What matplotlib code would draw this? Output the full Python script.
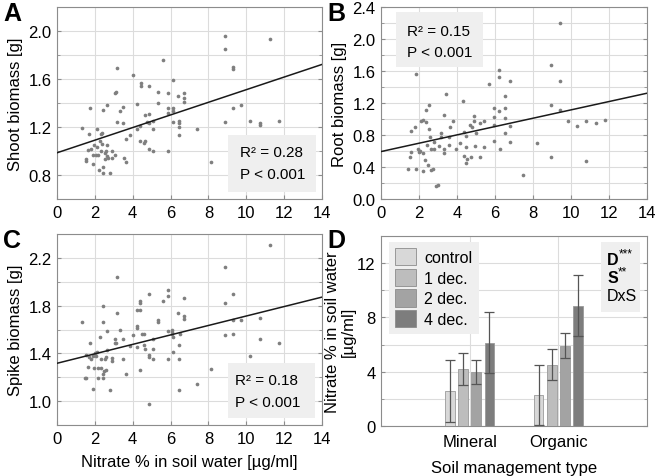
import numpy as np
import matplotlib
matplotlib.use("Agg")
import matplotlib.pyplot as plt
from matplotlib.patches import Rectangle

plt.rcParams['font.family'] = ['Liberation Sans', 'DejaVu Sans']

# ---- data ----
# A: shoot biomass vs nitrate
shoot_x = [1.30, 1.65, 1.53, 1.53, 1.67, 1.74, 1.82, 1.88, 1.97, 2.04, 2.09, 2.09, 2.15, 1.90,
           2.27, 2.30, 2.36, 2.39, 2.22, 2.30, 2.41, 2.44, 2.44, 2.53, 2.55, 2.59, 2.62, 2.66,
           2.66, 2.70, 2.79, 2.91, 2.93, 3.05, 3.05, 3.14, 3.17, 3.19, 3.32, 3.49, 3.49, 3.53,
           3.67, 3.67, 3.85, 4.03, 4.20, 4.20, 4.38, 4.41, 4.43, 4.43, 4.59, 4.64, 4.64, 4.73,
           4.85, 4.85, 4.87, 4.87, 5.08, 5.08, 5.08, 5.31, 5.31, 5.58, 5.84, 5.84, 5.84, 5.87,
           6.12, 6.12, 6.12, 6.14, 6.40, 6.44, 6.44, 6.44, 6.44, 6.72, 6.72, 6.72, 7.40, 8.11,
           8.90, 8.90, 8.90, 9.30, 9.30, 9.32, 9.74, 10.22, 10.71, 10.71, 11.24, 11.73]
shoot_y = [1.19, 1.01, 0.93, 0.92, 1.14, 1.36, 1.02, 0.97, 1.05, 0.97, 1.18, 1.03, 0.97, 0.89,
           1.08, 1.14, 1.15, 1.06, 0.84, 1.00, 0.87, 0.82, 1.34, 0.98, 0.93, 1.00, 0.96, 1.38,
           1.05, 0.94, 0.82, 1.00, 0.94, 0.97, 1.48, 1.49, 1.69, 1.24, 1.33, 1.37, 1.23, 0.94,
           0.91, 1.10, 1.13, 1.63, 1.39, 1.18, 1.21, 1.08, 1.57, 1.54, 1.07, 1.08, 1.30, 1.24,
           1.54, 1.31, 1.02, 1.23, 1.18, 1.00, 1.25, 1.49, 1.40, 1.76, 1.48, 1.00, 1.36, 1.32,
           1.59, 1.36, 1.33, 1.24, 1.46, 1.25, 1.23, 1.20, 1.13, 1.48, 1.44, 1.41, 1.18, 0.91,
           1.96, 1.85, 1.24, 1.70, 1.68, 1.36, 1.38, 1.25, 1.23, 1.22, 1.93, 1.25]
shoot_fit = [0.985, 0.0526]   # intercept, slope

# B: root biomass vs nitrate
root_x = [1.42, 1.54, 1.60, 1.60, 1.77, 1.84, 1.84, 1.93, 1.98, 2.07, 2.11, 2.21, 2.21, 2.21,
          2.30, 2.37, 2.39, 2.42, 2.47, 2.51, 2.53, 2.60, 2.63, 2.65, 2.72, 2.77, 2.81, 2.89,
          3.00, 3.04, 3.16, 3.18, 3.30, 3.30, 3.30, 3.44, 3.56, 3.60, 3.61, 3.79, 3.95, 4.14,
          4.32, 4.35, 4.39, 4.49, 4.49, 4.49, 4.53, 4.70, 4.74, 4.79, 4.91, 4.91, 4.93, 5.02,
          5.19, 5.19, 5.40, 5.40, 5.67, 5.93, 5.93, 5.93, 5.96, 6.23, 6.23, 6.23, 6.25, 6.51,
          6.51, 6.51, 6.51, 6.81, 6.81, 6.81, 7.47, 8.21, 8.96, 8.96, 8.96, 9.40, 9.40, 9.40,
          9.84, 10.32, 10.79, 10.79, 11.32, 11.81]
root_y = [0.37, 0.53, 0.59, 0.85, 0.90, 1.56, 0.38, 0.63, 0.59, 0.60, 0.98, 0.99, 0.58, 0.35,
          0.49, 1.11, 0.96, 0.67, 0.43, 1.18, 0.88, 0.78, 0.63, 0.36, 0.38, 0.63, 0.71, 0.16,
          0.18, 0.66, 0.83, 0.77, 1.05, 0.62, 0.58, 1.31, 0.77, 0.67, 0.90, 0.97, 0.63, 0.70,
          1.23, 0.84, 0.54, 0.79, 0.65, 0.45, 0.50, 0.93, 0.52, 0.90, 1.04, 0.97, 0.66, 0.83,
          0.95, 0.53, 0.97, 0.65, 1.44, 1.14, 1.02, 0.72, 0.93, 1.61, 1.53, 1.10, 0.63, 1.29,
          1.14, 1.01, 0.83, 1.47, 0.91, 0.71, 0.30, 0.70, 1.68, 1.17, 0.53, 2.20, 1.48, 1.11,
          0.97, 0.91, 0.97, 0.47, 0.95, 0.99]
root_fit = [0.593, 0.0521]

# C: spike biomass vs nitrate
spike_x = [1.30, 1.48, 1.53, 1.53, 1.65, 1.71, 1.74, 1.79, 1.88, 1.92, 1.97, 2.00, 2.06, 2.09,
           2.15, 2.18, 2.27, 2.30, 2.32, 2.41, 2.41, 2.44, 2.44, 2.50, 2.53, 2.57, 2.58, 2.62,
           2.66, 2.79, 2.88, 2.91, 3.05, 3.05, 3.14, 3.17, 3.19, 3.32, 3.49, 3.49, 3.67, 3.85,
           4.03, 4.20, 4.20, 4.24, 4.24, 4.41, 4.41, 4.41, 4.41, 4.47, 4.61, 4.61, 4.64, 4.85,
           4.85, 4.87, 4.87, 5.05, 5.08, 5.08, 5.31, 5.31, 5.58, 5.84, 5.84, 5.88, 5.88, 6.10,
           6.10, 6.10, 6.14, 6.14, 6.40, 6.44, 6.44, 6.44, 6.49, 6.72, 6.72, 6.72, 7.40, 8.11,
           8.90, 8.90, 8.90, 9.30, 9.30, 9.30, 9.74, 10.22, 10.71, 10.71, 11.24, 11.73]
spike_y = [1.66, 1.19, 1.19, 1.39, 1.29, 1.37, 1.49, 1.35, 1.38, 1.10, 1.28, 1.40, 1.38, 1.41,
           1.28, 1.19, 1.54, 1.28, 1.35, 1.80, 1.66, 1.23, 1.19, 1.25, 1.35, 1.26, 1.37, 1.43,
           1.59, 1.09, 1.34, 1.36, 1.52, 1.49, 1.49, 2.04, 1.74, 1.60, 1.52, 1.35, 1.23, 1.46,
           1.55, 1.63, 1.61, 1.76, 1.45, 1.84, 1.82, 1.76, 1.26, 1.56, 1.56, 1.47, 1.44, 1.90,
           1.39, 1.37, 0.98, 1.44, 1.52, 1.35, 1.68, 1.66, 1.84, 1.93, 1.88, 1.59, 1.35, 1.60,
           1.58, 1.56, 1.54, 1.41, 1.74, 1.47, 1.35, 1.09, 1.56, 1.86, 1.71, 1.69, 1.14, 1.27,
           2.12, 1.82, 1.55, 1.90, 1.68, 1.56, 1.68, 1.38, 1.70, 1.52, 2.31, 1.49]
spike_fit = [1.317, 0.0396]

# D: nitrate by soil management type and decomposition
soil_types = ['Mineral', 'Organic']
treatments = ['control', '1 dec.', '2 dec.', '4 dec.']
nitrate_mean = [[2.56, 2.29], [4.22, 4.52], [3.98, 5.91], [6.14, 8.87]]
nitrate_err = [[2.30, 2.23], [1.17, 1.15], [0.89, 0.93], [2.26, 2.27]]
bar_colors = ['#d8d8d8', '#bdbdbd', '#a3a3a3', '#7d7d7d']

W, H = 660, 477
fig = plt.figure(figsize=(W / 100, H / 100), dpi=100)


def axbox(l, t, r, b):
    return [l / W, 1 - b / H, (r - l) / W, (b - t) / H]


grid_c = '#dcdcdc'
spine_c = '#8c8c8c'
fs = 12      # ticks and axis labels
fs_box = 11  # boxed texts and legend


def style(ax):
    for s in ax.spines.values():
        s.set_color(spine_c)
    ax.tick_params(which='both', direction='in', color=spine_c, labelsize=fs, pad=4)
    ax.tick_params(which='major', length=3)
    ax.tick_params(which='minor', length=2)
    ax.tick_params(right=True, which='both')
    ax.set_axisbelow(True)


def scatter_panel(rect, xs, ys, fit, ylim, yticks, ylabel, r2, box, lines_xy):
    ax = fig.add_axes(axbox(*rect))
    style(ax)
    ax.set_xlim(0, 14)
    ax.set_ylim(*ylim)
    ax.set_xticks(np.arange(0, 15, 2))
    ax.set_yticks(yticks)
    ax.set_yticks(np.arange(ylim[0], ylim[1] + 0.001, 0.2), minor=True)
    ax.yaxis.set_major_formatter(matplotlib.ticker.FormatStrFormatter('%.1f'))
    ax.grid(True, which='both', axis='y', color=grid_c, lw=0.8)
    ax.grid(True, which='major', axis='x', color=grid_c, lw=0.8)
    ax.scatter(xs, ys, s=7, color='#7f7f7f', linewidths=0, zorder=3)
    xx = np.array([0, 14])
    ax.plot(xx, fit[0] + fit[1] * xx, color='#1a1a1a', lw=1.1, zorder=4)
    ax.set_ylabel(ylabel, fontsize=fs, labelpad=4)
    ax.add_patch(Rectangle((box[0], box[1]), box[2] - box[0], box[3] - box[1],
                           transform=ax.transAxes, facecolor='#efefef', edgecolor='none', zorder=5))
    ax.text(lines_xy[0], lines_xy[1], 'R² = ' + r2, transform=ax.transAxes,
            fontsize=fs_box, va='center', zorder=6)
    ax.text(lines_xy[0], lines_xy[2], 'P < 0.001', transform=ax.transAxes,
            fontsize=fs_box, va='center', zorder=6)
    return ax


axA = scatter_panel((57, 8, 322, 200), shoot_x, shoot_y, shoot_fit, (0.6, 2.2),
                    [0.8, 1.2, 1.6, 2.0], 'Shoot biomass [g]', '0.28',
                    (0.645, 0.036, 0.977, 0.333), (0.69, 0.245, 0.13))
axB = scatter_panel((381, 8, 647, 200), root_x, root_y, root_fit, (0.0, 2.4),
                    [0.0, 0.4, 0.8, 1.2, 1.6, 2.0, 2.4], 'Root biomass [g]', '0.15',
                    (0.056, 0.6875, 0.383, 0.974), (0.098, 0.875, 0.765))
axC = scatter_panel((57, 235, 322, 426), spike_x, spike_y, spike_fit, (0.8, 2.4),
                    [1.0, 1.4, 1.8, 2.2], 'Spike biomass [g]', '0.18',
                    (0.645, 0.037, 0.974, 0.325), (0.672, 0.235, 0.12))
axC.set_xlabel('Nitrate % in soil water [µg/ml]', fontsize=fs, labelpad=6)

# panel D
axD = fig.add_axes(axbox(381, 237, 647, 427))
style(axD)
axD.set_xlim(-1, 2)
axD.set_ylim(0, 14)
axD.set_yticks([0, 4, 8, 12])
axD.set_yticks(np.arange(0, 15, 2), minor=True)
axD.set_xticks([0, 1])
axD.set_xticklabels(soil_types)
axD.tick_params(axis='x', which='both', length=0, pad=6)
axD.grid(True, which='both', axis='y', color=grid_c, lw=0.8)
axD.grid(True, which='major', axis='x', color=grid_c, lw=0.8)
pos = np.arange(len(soil_types))
bw, step = 0.112, 0.149
for i, t in enumerate(treatments):
    off = (i - 1.5) * step
    axD.bar(pos + off, nitrate_mean[i], width=bw, color=bar_colors[i],
            edgecolor='#9a9a9a', lw=0.6, label=t, zorder=3)
    axD.errorbar(pos + off, nitrate_mean[i], yerr=nitrate_err[i], fmt='none',
                 ecolor='#555555', elinewidth=0.9, capsize=3.5, capthick=0.9, zorder=4)
leg = axD.legend(loc='upper left', bbox_to_anchor=(0.03, 0.97), fontsize=fs_box + 0.5,
                 frameon=True, fancybox=False, framealpha=1, facecolor='#efefef',
                 edgecolor='none', handlelength=1.3, handleheight=1.3,
                 handletextpad=0.5, labelspacing=0.2, borderpad=0.4, borderaxespad=0)
for h in leg.legend_handles:
    h.set_edgecolor('#8c8c8c')
axD.set_xlabel('Soil management type', fontsize=fs, labelpad=8)
axD.set_ylabel('Nitrate % in soil water\n[µg/ml]', fontsize=fs, labelpad=1, linespacing=1.0)
axD.add_patch(Rectangle((0.826, 0.6), 0.147, 0.368, transform=axD.transAxes,
                        facecolor='#efefef', edgecolor='none', zorder=5))
tD = axD.text(0.85, 0.875, 'D', transform=axD.transAxes, fontsize=fs_box + 0.5,
              fontweight='bold', va='center', zorder=6)
axD.annotate('***', xy=(1.0, 0.55), xycoords=tD, fontsize=8.5, va='bottom', zorder=6)
tS = axD.text(0.85, 0.78, 'S', transform=axD.transAxes, fontsize=fs_box + 0.5,
              fontweight='bold', va='center', zorder=6)
axD.annotate('**', xy=(1.0, 0.55), xycoords=tS, fontsize=8.5, va='bottom', zorder=6)
axD.text(0.85, 0.685, 'DxS', transform=axD.transAxes, fontsize=fs_box + 0.5,
         va='center', zorder=6)

# panel letters
for x, y, s in [(3, 14, 'A'), (327, 14, 'B'), (3, 241, 'C'), (327, 241, 'D')]:
    fig.text(x / W, 1 - y / H, s, fontsize=18, fontweight='bold', va='center', ha='left')

fig.savefig('out.png', dpi=100)
